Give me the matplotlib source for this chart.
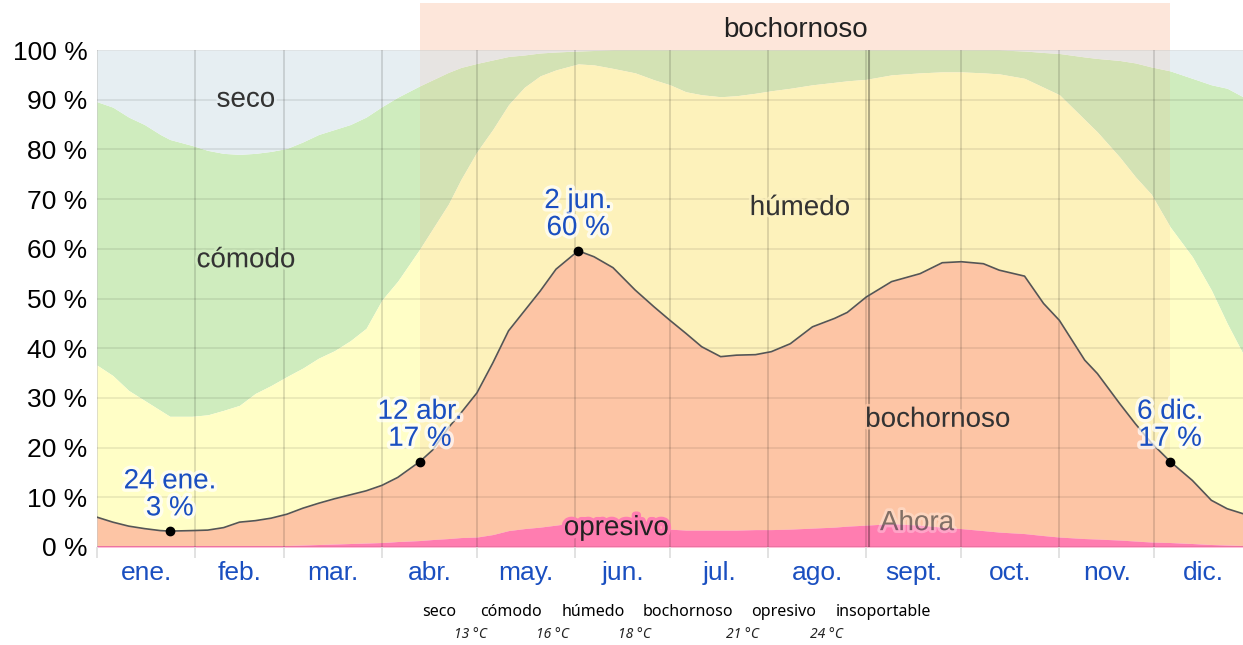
import numpy as np
import matplotlib.pyplot as plt
from matplotlib.patches import Rectangle
from matplotlib.transforms import blended_transform_factory
import matplotlib.patheffects as pe

plt.rcParams['font.family'] = ['Liberation Sans', 'DejaVu Sans']

# day of year (0 = 1 ene.)
days = [0, 5, 10, 15, 20, 23, 30, 35, 40, 45, 50, 55, 60, 65, 70, 75, 80, 85, 90, 95,
        102, 106, 111, 115, 120, 125, 130, 135, 140, 145, 152, 157, 163, 170, 176, 181,
        186, 191, 197, 202, 208, 213, 219, 226, 233, 237, 243, 251, 260, 267, 273, 280,
        285, 293, 299, 304, 312, 316, 323, 328, 333, 339, 346, 352, 357, 362]

# cumulative % (top of each band)
opresivo_top = [0.3, 0.3, 0.3, 0.3, 0.3, 0.3, 0.3, 0.3, 0.3, 0.3, 0.3, 0.3, 0.3, 0.4, 0.5, 0.6,
                0.7, 0.8, 0.9, 1.1, 1.3, 1.5, 1.7, 1.9, 2.0, 2.5, 3.3, 3.7, 4.0, 4.4, 5.0, 4.9,
                4.6, 4.0, 3.8, 3.6, 3.4, 3.4, 3.4, 3.4, 3.5, 3.5, 3.6, 3.8, 4.0, 4.2, 4.4, 4.7,
                4.4, 4.0, 3.7, 3.3, 3.0, 2.7, 2.3, 2.0, 1.7, 1.6, 1.4, 1.2, 1.0, 0.9, 0.7, 0.5,
                0.4, 0.3]
bochornoso_top = [6.0, 5.0, 4.2, 3.7, 3.3, 3.2, 3.3, 3.4, 3.9, 5.0, 5.3, 5.8, 6.6, 7.8, 8.8, 9.7,
                  10.5, 11.3, 12.4, 14.0, 17.2, 19.5, 24.0, 27.0, 31.0, 37.0, 43.5, 47.5, 51.5,
                  55.9, 59.6, 58.4, 56.2, 51.7, 48.3, 45.6, 43.0, 40.3, 38.3, 38.6, 38.7, 39.3,
                  40.9, 44.3, 46.0, 47.2, 50.3, 53.4, 55.0, 57.2, 57.4, 57.0, 55.7, 54.5, 49.0,
                  45.6, 37.6, 34.9, 28.9, 24.8, 21.0, 17.2, 13.4, 9.4, 7.7, 6.7]
humedo_top = [36.6, 34.5, 31.5, 29.5, 27.5, 26.3, 26.3, 26.6, 27.5, 28.5, 30.9, 32.5, 34.3, 36.0,
              38.0, 39.5, 41.5, 44.0, 49.7, 53.5, 60.0, 64.0, 69.0, 74.0, 79.5, 84.0, 89.0, 92.5,
              94.8, 96.0, 97.2, 97.0, 96.3, 95.4, 94.0, 93.0, 91.6, 91.0, 90.6, 90.8, 91.3, 91.8,
              92.3, 93.0, 93.5, 93.8, 94.1, 95.0, 95.4, 95.6, 95.6, 95.4, 95.2, 94.3, 92.5, 91.0,
              86.0, 83.5, 78.5, 74.5, 71.0, 64.4, 58.4, 51.7, 45.0, 38.9]
comodo_top = [89.6, 88.5, 86.5, 85.0, 83.0, 82.0, 80.8, 79.8, 79.2, 79.0, 79.2, 79.6, 80.2, 81.5,
              83.0, 84.0, 85.0, 86.5, 88.6, 90.5, 92.8, 94.0, 95.5, 96.5, 97.3, 98.0, 98.7, 99.0,
              99.4, 99.6, 99.8, 99.9, 100, 100, 100, 100, 100, 100, 100, 100, 100, 100, 100, 100,
              100, 100, 100, 100, 100, 100, 100, 100, 100, 99.8, 99.5, 99.3, 98.6, 98.3, 97.9,
              97.4, 96.6, 95.8, 94.3, 93.0, 92.3, 90.6]

month_starts = [0, 31, 59, 90, 120, 151, 181, 212, 243, 273, 304, 334]
month_mids = [15.5, 45, 74.5, 105, 135.5, 166, 196.5, 227.5, 258, 288.5, 319, 349.5]
month_labels = ['ene.', 'feb.', 'mar.', 'abr.', 'may.', 'jun.', 'jul.', 'ago.', 'sept.',
                'oct.', 'nov.', 'dic.']

band_start, band_end = 102, 339
now_day = 244

# highlighted points: (day, value, label)
marks = [(23, 3.2, '24 ene.\n3 %'), (102, 17.2, '12 abr.\n17 %'),
         (152, 59.6, '2 jun.\n60 %'), (339, 17.2, '6 dic.\n17 %')]

legend_names = ['seco', 'cómodo', 'húmedo', 'bochornoso', 'opresivo', 'insoportable']
legend_x = [439, 511, 593, 688, 784, 883]
temp_labels = ['13 °C', '16 °C', '18 °C', '21 °C', '24 °C']
temp_x = [471, 552, 635, 742, 826]

W, H = 1243, 645
fig = plt.figure(figsize=(W / 100, H / 100), dpi=100)
ax = fig.add_axes([97 / W, 98 / H, 1146 / W, 497 / H])

c_seco = '#e6eef2'
c_comodo = '#cfecbe'
c_humedo = '#fffec6'
c_boch = '#fdc5a5'
c_opre = '#ff7db0'

ax.fill_between(days, humedo_top, comodo_top, color=c_comodo, lw=0, zorder=1)
ax.fill_between(days, comodo_top, 100, color=c_seco, lw=0, zorder=1)
ax.fill_between(days, bochornoso_top, humedo_top, color=c_humedo, lw=0, zorder=1)

tr = blended_transform_factory(ax.transData, ax.transAxes)
ax.add_patch(Rectangle((band_start, 0), band_end - band_start, 1.0, transform=tr,
                       facecolor='#f5a070', alpha=0.12, lw=0, zorder=1.5))
ax.add_patch(Rectangle((band_start, 1.0), band_end - band_start, 0.0946, transform=tr,
                       facecolor='#fde6da', lw=0, clip_on=False, zorder=1.5))

ax.fill_between(days, opresivo_top, bochornoso_top, color=c_boch, lw=0, zorder=2)
ax.fill_between(days, 0, opresivo_top, color=c_opre, lw=0, zorder=2)
ax.plot(days, bochornoso_top, color='#555555', lw=1.2, zorder=4)

ax.set_xlim(0, 362)
ax.set_ylim(0, 100)
for s in ax.spines.values():
    s.set_visible(False)

ax.set_yticks(range(0, 101, 10))
ax.set_yticklabels([f'{v} %' for v in range(0, 101, 10)], fontsize=19)
ax.tick_params(axis='y', length=0, pad=7)
ax.grid(axis='y', color='black', alpha=0.09, lw=1.2, zorder=3)

ax.set_xticks(month_starts)
ax.set_xticklabels([])
ax.set_xticks(month_mids, minor=True)
ax.set_xticklabels(month_labels, minor=True, fontsize=19, color='#1a4fc0')
ax.tick_params(axis='x', which='major', length=8, color='#dddddd', width=1.2)
ax.tick_params(axis='x', which='minor', length=0, pad=10)
ax.grid(axis='x', which='major', color='black', alpha=0.13, lw=1.4, zorder=3)
ax.set_axisbelow(False)

ax.axvline(now_day, color='black', alpha=0.3, lw=1.5, zorder=3)

halo = lambda c, w=4, a=0.8: [pe.withStroke(linewidth=w, foreground=c, alpha=a)]

ax.text(47, 90, 'seco', fontsize=20, color='#333333', ha='center', va='center', zorder=5,
        path_effects=halo(c_seco))
ax.text(47, 57.7, 'cómodo', fontsize=20, color='#333333', ha='center', va='center', zorder=5,
        path_effects=halo(c_comodo))
ax.text(222, 68.2, 'húmedo', fontsize=20, color='#333333', ha='center', va='center', zorder=5,
        path_effects=halo('#fdf2bf'))
ax.text(265.5, 25.6, 'bochornoso', fontsize=20, color='#333333', ha='center', va='center',
        zorder=5, path_effects=halo(c_boch))
ax.text(164, 3.8, 'opresivo', fontsize=20, color='#222222', ha='center', va='center', zorder=5,
        path_effects=halo(c_opre, 5, 1))
ax.text(259, 4.8, 'Ahora', fontsize=20, color='black', alpha=0.35, ha='center', va='center',
        zorder=5, path_effects=halo('#ffffff', 4, 0.3))
ax.text((band_start + band_end) / 2, 1.04, 'bochornoso', transform=tr, fontsize=20,
        color='#222222', ha='center', va='center', clip_on=False)

for d, v, lab in marks:
    ax.plot(d, v, 'o', color='black', ms=6, zorder=6)
    ax.annotate(lab, (d, v), xytext=(0, 7), textcoords='offset points', ha='center',
                va='bottom', fontsize=20, color='#1a4fc0', linespacing=1.05, zorder=6,
                path_effects=halo('white', 5, 0.7))

for name, x in zip(legend_names, legend_x):
    fig.text(x / W, 1 - 612 / H, name, family='Noto Sans', fontsize=11.5, ha='center',
             va='center', color='black')
for name, x in zip(temp_labels, temp_x):
    fig.text(x / W, 1 - 635 / H, name, family='Noto Sans', fontsize=10, style='italic',
             ha='center', va='center', color='#222222')

fig.savefig('out.png', dpi=100)
